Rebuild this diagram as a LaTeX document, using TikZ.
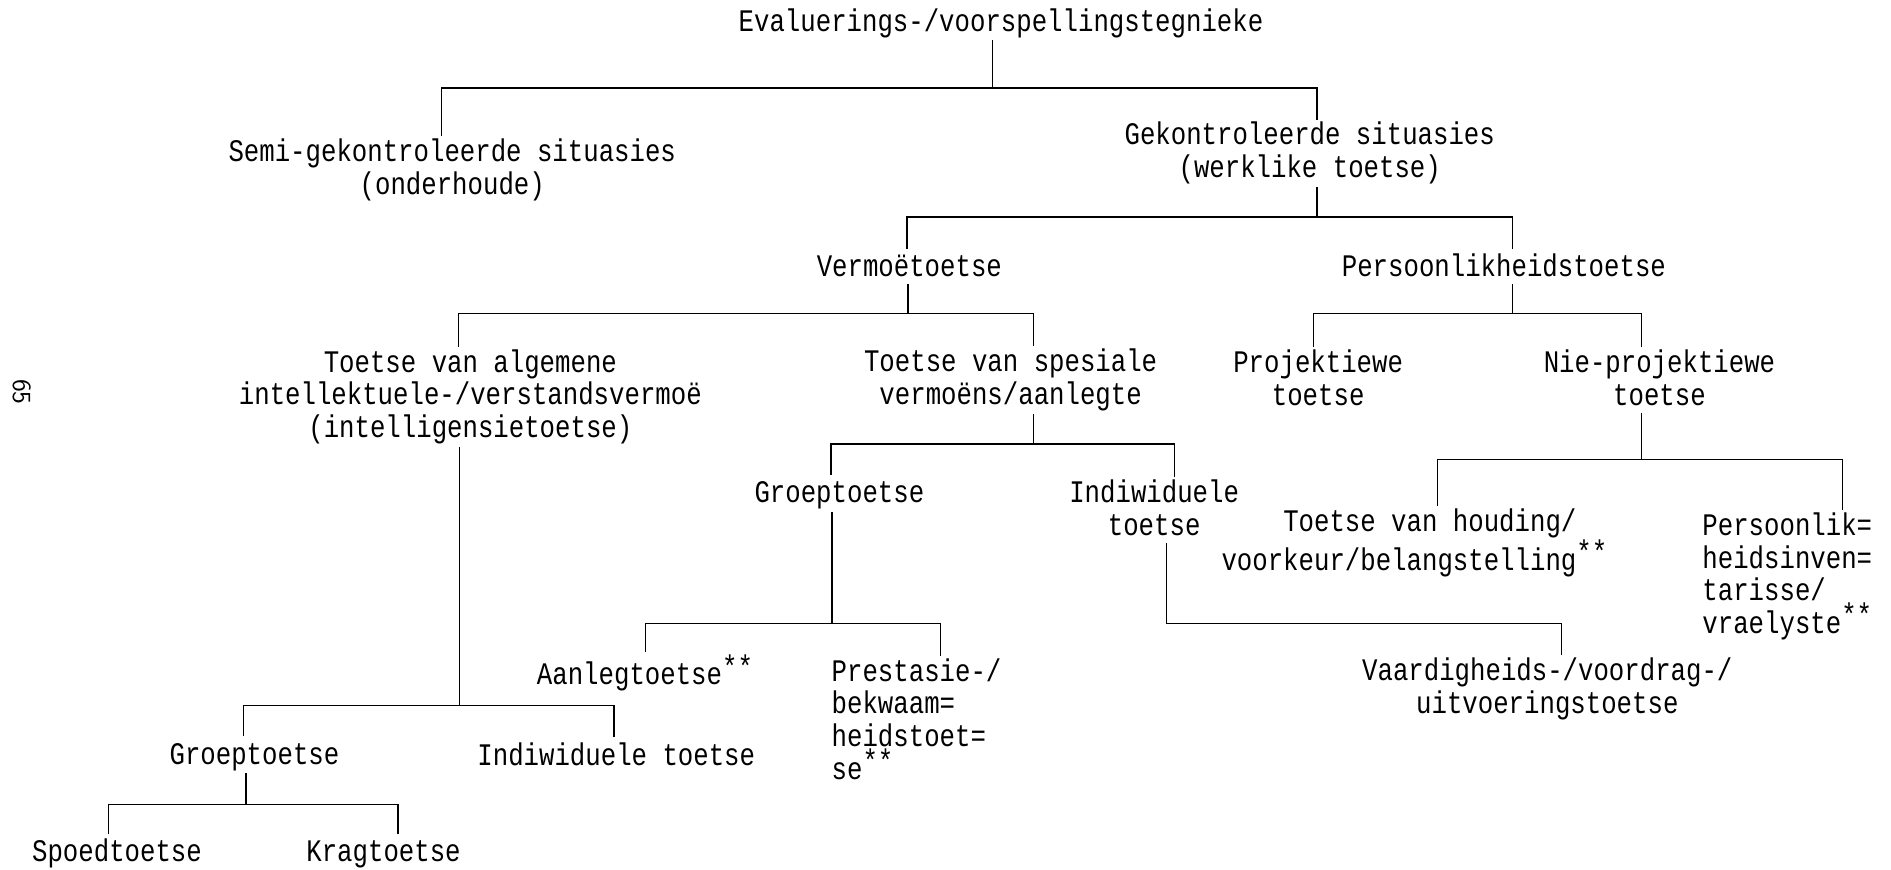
\documentclass[tikz,border=0pt]{standalone}
\usepackage{fontspec}
\setmonofont[FakeStretch=0.82]{Liberation Mono}
\newcommand{\lnstrut}{\vrule height 0.8em depth 0.15em width 0pt}
\newcommand{\stars}{\rlap{\raisebox{0.25em}{**}}}
\tikzset{
  lbl/.style={font=\ttfamily\fontsize{15.6}{16.2}\selectfont,
    inner xsep=0pt, inner ysep=1pt, align=center,
    execute at begin node=\lnstrut, execute at end node=\lnstrut},
  pagenr/.style={font=\sffamily\fontsize{13}{13}\selectfont, rotate=-90}
}
\begin{document}
\begin{tikzpicture}[x=0.6pt,y=-0.6pt,line width=0.7pt,every node/.style={lbl}]
      \useasboundingbox (0,0) rectangle (1568,721);
      \draw
        (830,18) node (root){Evaluerings-/voorspellingstegnieke}
        (375,141) node (semi){Semi-gekontroleerde situasies\\(onderhoude)}
        (1086,127) node (gek){Gekontroleerde situasies\\(werklike toetse)}
        (754,221) node (verm){Vermoëtoetse}
        (1247,221) node (pers){Persoonlikheidstoetse}
        (390,329) node (alg){Toetse van algemene\\intellektuele-/verstandsvermoë\\(intelligensietoetse)}
        (838,315) node (spes){Toetse van spesiale\\vermoëns/aanlegte}
        (1093,315) node (proj){Projektiewe\\toetse}
        (1376,315) node (nie){Nie-projektiewe\\toetse}
        (696,409) node (groepA){Groeptoetse}
        (957,423) node (indivA){Indiwiduele\\toetse}
        (1160,450) node[align=right] (houding){Toetse van houding/\\voorkeur/belangstelling\stars}
        (1482,478) node[align=left] (invent){Persoonlik=\\heidsinven=\\tarisse/\\vraelyste\stars}
        (522,558) node (aanleg){Aanlegtoetse\stars}
        (760,598) node[align=left] (prest){Prestasie-/\\bekwaam=\\heidstoet=\\se\stars}
        (1283,571) node (vaard){Vaardigheids-/voordrag-/\\uitvoeringstoetse}
        (211,626) node (groepB){Groeptoetse}
        (511,626) node (indivB){Indiwiduele toetse}
        (97,707) node (spoed){Spoedtoetse}
        (318,707) node (krag){Kragtoetse}
        (18,325) node[pagenr] (page){65};
      \coordinate (j1) at (823,73);
      \coordinate (j2) at (1092,180);
      \coordinate (j3) at (753,260);
      \coordinate (j4) at (1254,260);
      \coordinate (j5) at (857,368);
      \coordinate (j6) at (1361,381);
      \coordinate (j7) at (381,585);
      \coordinate (j8) at (204,667);
      \coordinate (j9) at (690,517);
      \coordinate (j10) at (967,517);
      \begin{scope}[-]
        \draw (j1) -- (j1 |- root.south);
        \draw (semi.north) ++(-9,0) |- (j1);
        \draw (gek.north) ++(6,0) |- (j1);
        \draw (j2) -- (j2 |- gek.south);
        \draw (verm.north) ++(-2,0) |- (j2);
        \draw (pers.north) ++(7,0) |- (j2);
        \draw (j3) -- (j3 |- verm.south);
        \draw (alg.north) ++(-10,0) |- (j3);
        \draw (spes.north) ++(19,0) |- (j3);
        \draw (j4) -- (j4 |- pers.south);
        \draw (proj.north) ++(-4,0) |- (j4);
        \draw (nie.north) ++(-15,0) |- (j4);
        \draw (j5) -- (j5 |- spes.south);
        \draw (groepA.north) ++(-7,0) |- (j5);
        \draw (indivA.north) ++(17,0) |- (j5);
        \draw (j6) -- (j6 |- nie.south);
        \draw (houding.north) ++(32,0) |- (j6);
        \draw (invent.north) ++(46,0) |- (j6);
        \draw (j7) -- (j7 |- alg.south);
        \draw (groepB.north) ++(-9,0) |- (j7);
        \draw (indivB.north) ++(-2,0) |- (j7);
        \draw (j8) -- (j8 |- groepB.south);
        \draw (spoed.north) ++(-7,0) |- (j8);
        \draw (krag.north) ++(12,0) |- (j8);
        \draw (j9) -- (j9 |- groepA.south);
        \draw (aanleg.north) ++(13,0) |- (j9);
        \draw (prest.north) ++(20,0) |- (j9);
        \draw (j10) -- (j10 |- indivA.south);
        \draw (vaard.north) ++(12,0) |- (j10);
      \end{scope}
    \end{tikzpicture}
\end{document}
